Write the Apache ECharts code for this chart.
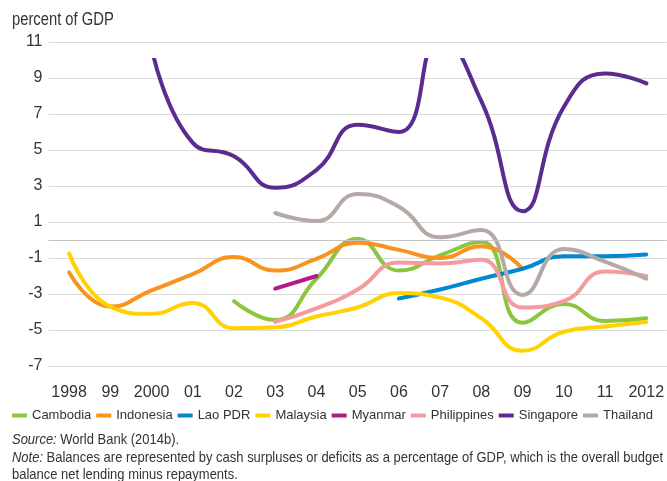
<!DOCTYPE html>
<html>
<head>
<meta charset="utf-8">
<script src="https://cdn.jsdelivr.net/npm/echarts@6/dist/echarts.min.js"></script>
<style>
  html, body { margin: 0; padding: 0; background: #fff; }
  #main { width: 667px; height: 481px; }
</style>
</head>
<body>
<div id="main"></div>
<script>
  var years = ['1998', '99', '2000', '01', '02', '03', '04', '05', '06', '07', '08', '09', '10', '11', '2012'];

  // percent of GDP
  var cambodia    = [null, null, null, null, -3.4, -4.45, -2.15, 0.05, -1.7, -0.85, -0.1, -4.6, -3.55, -4.5, -4.35];
  var indonesia   = [-1.8, -3.7, -2.8, -1.9, -0.95, -1.7, -1.05, -0.15, -0.55, -1.0, -0.35, -1.6, null, null, null];
  var laoPdr      = [null, null, null, null, null, null, null, null, -3.25, -2.75, -2.15, -1.6, -0.9, -0.9, -0.8];
  var malaysia    = [-0.75, -3.7, -4.1, -3.5, -4.9, -4.85, -4.25, -3.75, -2.95, -3.2, -4.35, -6.15, -5.1, -4.8, -4.55];
  var myanmar     = [null, null, null, null, null, -2.7, -2.0, null, null, null, null, null, null, null, null];
  var philippines = [null, null, null, null, null, -4.55, -3.8, -2.75, -1.25, -1.3, -1.1, -3.75, -3.4, -1.75, -2.0];
  var singapore   = [null, null, 10.7, 5.4, 4.65, 2.9, 3.9, 6.4, 6.0, 11.3, 7.7, 1.6, 7.4, 9.25, 8.7];
  var thailand    = [null, null, null, null, null, 1.5, 1.05, 2.55, 1.85, 0.15, 0.55, -3.05, -0.5, -1.2, -2.15];

  var names = ['Cambodia', 'Indonesia', 'Lao PDR', 'Malaysia', 'Myanmar', 'Philippines', 'Singapore', 'Thailand'];

  var font = 'Liberation Sans, Arial, sans-serif';
  var textColor = '#333';

  function line(name, data, color, axis) {
    return {
      name: name,
      type: 'line',
      data: data,
      xAxisIndex: axis,
      yAxisIndex: axis,
      smooth: 0.5,
      showSymbol: false,
      connectNulls: false,
      clip: true,
      lineStyle: { color: color, width: 4, cap: 'round', join: 'round' },
      itemStyle: { color: color }
    };
  }

  // the original type is condensed, so the notes are squeezed a bit
  function note(text, y, size, squeeze) {
    return {
      type: 'text', x: 12, y: y, scaleX: squeeze,
      style: {
        text: text,
        font: size + 'px ' + font, fill: textColor, verticalAlign: 'middle',
        rich: { i: { fontStyle: 'italic', fontSize: size, fontFamily: font, fill: textColor } }
      }
    };
  }

  var myChart = echarts.init(document.getElementById('main'));

  var cam = line('Cambodia', cambodia, '#8cc63f', 0);
  // darker line at zero
  cam.markLine = {
    silent: true,
    symbol: 'none',
    label: { show: false },
    lineStyle: { color: '#c4c4c4', width: 1, type: 'solid' },
    data: [{ yAxis: 0 }]
  };

  var option = {
    animation: false,
    backgroundColor: '#fff',
    textStyle: { fontFamily: font },
    grid: [
      { left: 48.5, width: 620, top: 42, height: 324 },
      // Singapore is cut at 10 in the original
      { left: 48.5, width: 620, top: 60, height: 306 }
    ],
    legend: {
      left: 12,
      top: 409,
      padding: 0,
      itemGap: 5,
      itemWidth: 15,
      itemHeight: 4,
      icon: 'rect',
      textStyle: { fontFamily: font, fontSize: 13, color: textColor },
      data: names
    },
    xAxis: [
      {
        type: 'category',
        gridIndex: 0,
        data: years,
        boundaryGap: true,
        axisLine: { show: false, onZero: false },
        axisTick: { show: false },
        splitLine: { show: false },
        axisLabel: { fontFamily: font, fontSize: 16, color: textColor, margin: 19, interval: 0 }
      },
      {
        type: 'category',
        gridIndex: 1,
        data: years,
        boundaryGap: true,
        show: false
      }
    ],
    yAxis: [
      {
        type: 'value',
        gridIndex: 0,
        min: -7,
        max: 11,
        interval: 2,
        axisLine: { show: false },
        axisTick: { show: false },
        splitLine: { lineStyle: { color: '#dadada', width: 1 } },
        axisLabel: { fontFamily: font, fontSize: 16, color: textColor, margin: 6 }
      },
      {
        type: 'value',
        gridIndex: 1,
        min: -7,
        max: 10,
        show: false,
        splitLine: { show: false }
      }
    ],
    graphic: [
      note('percent of GDP', 20, 18, 0.82),
      note('{i|Source:} World Bank (2014b).', 440, 15, 0.865),
      note('{i|Note:} Balances are represented by cash surpluses or deficits as a percentage of GDP, which is the overall budget', 458, 15, 0.865),
      note('balance net lending minus repayments.', 475, 15, 0.865)
    ],
    series: [
      cam,
      line('Indonesia', indonesia, '#f7941d', 0),
      line('Lao PDR', laoPdr, '#0088d1', 0),
      line('Malaysia', malaysia, '#ffd200', 0),
      line('Myanmar', myanmar, '#b5198d', 0),
      line('Philippines', philippines, '#f59a9f', 0),
      line('Singapore', singapore, '#5b2c8f', 1),
      line('Thailand', thailand, '#b4aaa5', 0)
    ]
  };

  myChart.setOption(option);
</script>
</body>
</html>
